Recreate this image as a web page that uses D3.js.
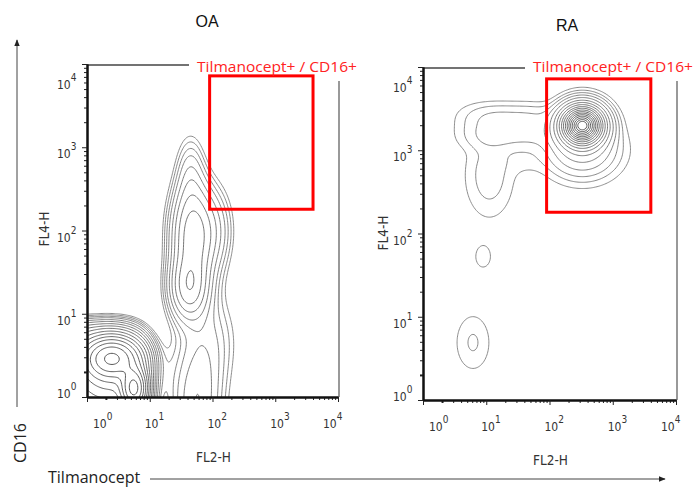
<!DOCTYPE html>
<html>
<head>
<meta charset="utf-8">
<script src="https://cdn.jsdelivr.net/npm/d3@7"></script>
<style>
body { margin: 0; background: #fff; }
svg { display: block; }
</style>
</head>
<body>
<svg id="chart" width="695" height="487"></svg>
<script>
// panel titles, axis decades and gate
var panelNames = ["OA", "RA"];
var decades = [0, 1, 2, 3, 4];
var gateLabel = "Tilmanocept+ / CD16+";
var gateX = [90, 4000];
var gateY = [180, 7200];

// populations in log10 units: [x, y, sdx, sdy, weight, corner, steep]
var popsOA = [
    [0.05, 0.0, 0.9, 0.8, 0.05, 2, 2],
    [0.35, 0.3, 0.35, 0.25, 0.08, 1, 1],
    [0.4, 0.47, 0.25, 0.14, 0.3, 1, 1],
    [0.75, 0.1, 0.12, 0.15, 0.35, 1, 1],
    [1.68, 1.95, 0.22, 0.4, 0.04, 1, 1],
    [1.62, 1.3, 0.2, 0.25, 0.035, 1, 1],
    [1.95, 0.7, 0.3, 0.4, 0.008, 1, 1],
    [1.75, -0.1, 0.27, 0.5, 0.018, 1, 1],
    [2.05, 2.0, 0.2, 0.35, 0.01, 1, 1],
    [1.65, 2.72, 0.15, 0.3, 0.009, 1, 1]
];
var levelsOA = [0.004, 0.0055, 0.0075, 0.01, 0.014, 0.019, 0.026, 0.035, 0.047, 0.064, 0.086, 0.115, 0.155, 0.21, 0.28, 0.38];

var popsRA = [
    [2.52, 3.3, 0.2, 0.14, 1, 1, 1],
    [2.52, 3.0, 0.33, 0.2, 0.07, 1, 1],
    [1.4, 3.29, 0.6, 0.2, 0.026, 1.5, 1],
    [1.05, 2.7, 0.25, 0.33, 0.016, 1, 1],
    [1.6, 2.9, 0.25, 0.12, 0.006, 1, 1],
    [0.95, 1.72, 0.115, 0.125, 0.008, 1, 1],
    [0.79, 0.69, 0.19, 0.235, 0.012, 1, 1]
];
var levelsRA = [0.005, 0.011, 0.02, 0.035, 0.06, 0.1, 0.15, 0.21, 0.28, 0.35, 0.43, 0.51, 0.59, 0.67, 0.75, 0.83, 0.9, 0.96];

var panels = [
    { name: panelNames[0], pops: popsOA, levels: levelsOA, x0: 87, x1: 338, y0: 397, y1: 64, labelX: 197, titleX: 207, titleY: 27, ylabX: 49, ylabY: 229 },
    { name: panelNames[1], pops: popsRA, levels: levelsRA, x0: 423, x1: 676, y0: 400, y1: 67, labelX: 533, titleX: 567, titleY: 31, ylabX: 388, ylabY: 233 }
];

var svg = d3.select("#chart");
var narrow = "'Liberation Sans Narrow', 'DejaVu Sans Condensed', Arial, sans-serif";

function density(pops, lx, ly) {
    var s = 0;
    for (var k = 0; k < pops.length; k++) {
        var p = pops[k];
        var dx = Math.abs(lx - p[0]) / p[2], dy = Math.abs(ly - p[1]) / p[3];
        var q = Math.pow(dx, 2 * p[5]) + Math.pow(dy, 2 * p[5]);
        s += p[4] * Math.exp(-0.5 * Math.pow(q, p[6]));
    }
    return s;
}

panels.forEach(function (p, idx) {
    var g = svg.append("g");
    var x = d3.scaleLog().domain([1, 1e4]).range([p.x0, p.x1]);
    var y = d3.scaleLog().domain([1, 1e4]).range([p.y0, p.y1]);
    var shade = d3.scaleLinear().domain([0, p.levels.length - 1]).range(["#777", "#3a3a3a"]);

    // contours
    var n = 260, lo = -0.3, hi = 4.3, step = (hi - lo) / n;
    var values = new Array(n * n);
    for (var j = 0; j < n; j++) {
        for (var i = 0; i < n; i++) {
            values[j * n + i] = density(p.pops, lo + (i + 0.5) * step, lo + (j + 0.5) * step);
        }
    }
    var contours = d3.contours().size([n, n]).thresholds(p.levels)(values);
    var proj = d3.geoTransform({
        point: function (cx, cy) {
            this.stream.point(x(Math.pow(10, lo + cx * step)), y(Math.pow(10, lo + cy * step)));
        }
    });
    var path = d3.geoPath(proj);

    svg.append("clipPath").attr("id", "clip" + idx)
        .append("rect").attr("x", p.x0).attr("y", p.y1).attr("width", p.x1 - p.x0).attr("height", p.y0 - p.y1);

    g.append("g").attr("clip-path", "url(#clip" + idx + ")")
        .selectAll("path").data(contours).enter().append("path")
        .attr("d", path)
        .attr("fill", "none")
        .attr("stroke", function (c, k) { return shade(k); })
        .attr("stroke-width", 0.85);

    // frame top and right
    g.append("line").attr("x1", p.x0).attr("x2", p.x1 + 1).attr("y1", p.y1 + 1).attr("y2", p.y1 + 1)
        .attr("stroke", "#444").attr("stroke-width", 1.6);
    g.append("line").attr("x1", p.x1 + 1).attr("x2", p.x1 + 1).attr("y1", p.y1).attr("y2", p.y0)
        .attr("stroke", "#555").attr("stroke-width", 1.2);

    // axes: minor and major ticks
    var minor = x.ticks().filter(function (v) { return Math.abs(Math.log10(v) % 1) > 1e-9; });
    var major = decades.map(function (d) { return Math.pow(10, d); });

    var xa = g.append("g").attr("transform", "translate(0," + p.y0 + ")");
    xa.call(d3.axisBottom(x).tickValues(minor).tickSize(3).tickSizeOuter(0).tickFormat(""));
    xa.append("g").call(d3.axisBottom(x).tickValues(major).tickSize(5).tickSizeOuter(0).tickFormat(""));
    var ya = g.append("g").attr("transform", "translate(" + p.x0 + ",0)");
    ya.call(d3.axisLeft(y).tickValues(minor).tickSize(3).tickSizeOuter(0).tickFormat(""));
    ya.append("g").call(d3.axisLeft(y).tickValues(major).tickSize(5).tickSizeOuter(0).tickFormat(""));
    g.selectAll(".domain").attr("stroke", "#111").attr("stroke-width", 2);
    g.selectAll(".tick line").attr("stroke", "#222").attr("stroke-width", 1);
    xa.select("g").selectAll(".tick line").attr("stroke-width", 2);
    ya.select("g").selectAll(".tick line").attr("stroke-width", 2);

    // tick labels 10^n
    decades.forEach(function (d) {
        var tx = Math.max(p.x0 + 6, Math.min(p.x1 - 15, x(Math.pow(10, d)) - 5));
        var t = g.append("text").attr("x", tx).attr("y", p.y0 + 31)
            .attr("font-family", narrow).attr("font-size", 12).attr("fill", "#333").text("10");
        t.append("tspan").attr("dy", -8).attr("font-size", 10).text(d);

        var ty = Math.max(p.y1 + 25, Math.min(p.y0 + 1, y(Math.pow(10, d)) + 11));
        var u = g.append("text").attr("x", p.x0 - 30).attr("y", ty)
            .attr("font-family", narrow).attr("font-size", 12).attr("fill", "#333").text("10");
        u.append("tspan").attr("dy", -8).attr("font-size", 10).text(d);
    });

    // axis names
    g.append("text").attr("x", (p.x0 + p.x1) / 2 + 1).attr("y", p.y0 + 65)
        .attr("text-anchor", "middle").attr("font-family", narrow).attr("font-size", 13.5).attr("fill", "#333")
        .text("FL2-H");
    g.append("text").attr("transform", "translate(" + p.ylabX + "," + p.ylabY + ") rotate(-90)")
        .attr("text-anchor", "middle").attr("font-family", narrow).attr("font-size", 13.5).attr("fill", "#333")
        .text("FL4-H");

    // title
    g.append("text").attr("x", p.titleX).attr("y", p.titleY).attr("text-anchor", "middle")
        .attr("font-family", "'Liberation Sans', Arial, sans-serif").attr("font-size", 16).attr("fill", "#111")
        .text(p.name);

    // white patch behind gate label
    g.append("rect").attr("x", p.labelX - 8).attr("y", 52).attr("width", 695 - p.labelX + 8).attr("height", 29).attr("fill", "#fff");

    // gate
    g.append("rect")
        .attr("x", x(gateX[0])).attr("y", y(gateY[1]))
        .attr("width", x(gateX[1]) - x(gateX[0])).attr("height", y(gateY[0]) - y(gateY[1]))
        .attr("fill", "none").attr("stroke", "#ff0000").attr("stroke-width", 3);
    g.append("text").attr("x", p.labelX).attr("y", 72)
        .attr("font-family", "'Open Sans', sans-serif").attr("font-size", 14).attr("fill", "#ff2222")
        .attr("textLength", 160).attr("lengthAdjust", "spacingAndGlyphs")
        .text(gateLabel);
});

// overall axis arrows
var defs = svg.append("defs");
defs.append("marker").attr("id", "arr").attr("viewBox", "0 0 10 10").attr("refX", 9).attr("refY", 5)
    .attr("markerWidth", 7).attr("markerHeight", 7).attr("orient", "auto")
    .append("path").attr("d", "M0,1L10,5L0,9Z").attr("fill", "#222");

svg.append("line").attr("x1", 17).attr("x2", 17).attr("y1", 407).attr("y2", 40)
    .attr("stroke", "#444").attr("stroke-width", 1).attr("marker-end", "url(#arr)");
svg.append("line").attr("x1", 150).attr("x2", 665).attr("y1", 479).attr("y2", 479)
    .attr("stroke", "#444").attr("stroke-width", 1).attr("marker-end", "url(#arr)");

svg.append("text").attr("transform", "translate(26,443) rotate(-90)").attr("text-anchor", "middle")
    .attr("font-family", "'Open Sans', sans-serif").attr("font-size", 16).attr("fill", "#222")
    .text("CD16");
svg.append("text").attr("x", 48).attr("y", 483)
    .attr("font-family", "'Open Sans', sans-serif").attr("font-size", 16).attr("fill", "#222")
    .text("Tilmanocept");
</script>
</body>
</html>
